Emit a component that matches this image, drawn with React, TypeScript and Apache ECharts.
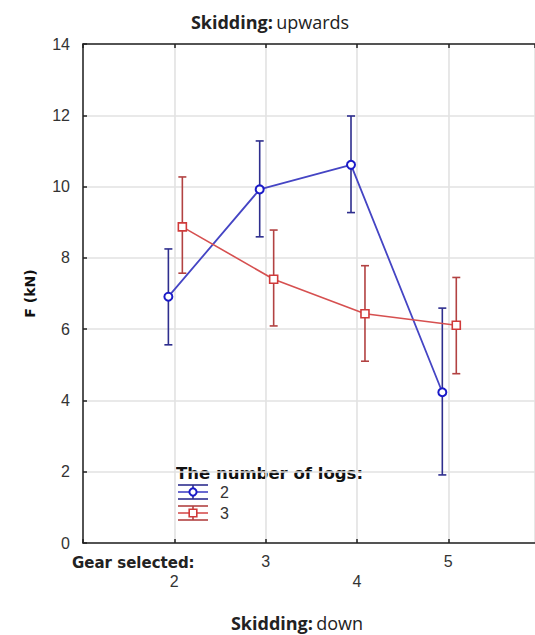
import React, { useEffect, useRef } from "react";
import * as echarts from "echarts";

// Data
const gears = [2, 3, 4, 5];
const tickLabelsX = ["2", "3", "4", "5"];
const logs2Mean = [6.91, 9.92, 10.61, 4.23];
const logs2Low = [5.56, 8.59, 9.27, 1.91];
const logs2High = [8.25, 11.28, 11.98, 6.59];
const logs3Mean = [8.87, 7.4, 6.43, 6.11];
const logs3Low = [7.57, 6.09, 5.1, 4.75];
const logs3High = [10.27, 8.78, 7.78, 7.45];
const legendLabels = ["2", "3"];

const BLUE_LINE = "#4545c4";
const BLUE_BAR = "#2e2e8e";
const BLUE_MARK = "#1a1ac8";
const RED_LINE = "#d65050";
const RED_BAR = "#b24242";
const RED_MARK = "#d03a3a";

const OFF_BLUE = -0.065;
const OFF_RED = 0.088;

function errorSeries(name: string, xs: number[], lo: number[], hi: number[], color: string) {
  return {
    name,
    type: "custom",
    z: 3,
    renderItem: (params: any, api: any) => {
      const x = api.value(0);
      const p1 = api.coord([x, api.value(1)]);
      const p2 = api.coord([x, api.value(2)]);
      const w = 4;
      const st = { stroke: color, lineWidth: 1.6 };
      return {
        type: "group",
        children: [
          { type: "line", shape: { x1: p1[0], y1: p1[1], x2: p2[0], y2: p2[1] }, style: st },
          { type: "line", shape: { x1: p1[0] - w, y1: p1[1], x2: p1[0] + w, y2: p1[1] }, style: st },
          { type: "line", shape: { x1: p2[0] - w, y1: p2[1], x2: p2[0] + w, y2: p2[1] }, style: st },
        ],
      };
    },
    data: xs.map((x, i) => [x, lo[i], hi[i]]),
  };
}

function legendIcon(cx: number, cy: number, lineColor: string, barColor: string, markColor: string, symbol: "circle" | "rect") {
  const half = 15;
  const cap = 7;
  const st = { stroke: barColor, lineWidth: 1.6 };
  const children: any[] = [
    { type: "line", shape: { x1: cx - half, y1: cy - cap, x2: cx + half, y2: cy - cap }, style: st },
    { type: "line", shape: { x1: cx - half, y1: cy + cap, x2: cx + half, y2: cy + cap }, style: st },
    { type: "line", shape: { x1: cx, y1: cy - cap, x2: cx, y2: cy + cap }, style: st },
    { type: "line", shape: { x1: cx - half, y1: cy, x2: cx + half, y2: cy }, style: { stroke: lineColor, lineWidth: 1.6 } },
  ];
  if (symbol === "circle") {
    children.push({ type: "circle", shape: { cx, cy, r: 3.6 }, style: { fill: "#fff", stroke: markColor, lineWidth: 2 } });
  } else {
    children.push({ type: "rect", shape: { x: cx - 3.8, y: cy - 3.8, width: 7.6, height: 7.6 }, style: { fill: "#fff", stroke: markColor, lineWidth: 1.6 } });
  }
  return { type: "group", children };
}

export default function App() {
  const ref = useRef<HTMLDivElement>(null);
  useEffect(() => {
    if (!ref.current) return;
    const chart = echarts.init(ref.current, null, { renderer: "svg" });
    const xs2 = gears.map((g) => g + OFF_BLUE);
    const xs3 = gears.map((g) => g + OFF_RED);
    const labelMap: Record<number, string> = {};
    gears.forEach((g, i) => (labelMap[g] = tickLabelsX[i]));
    const axisLine = { show: true, lineStyle: { color: "#222", width: 1.5 } };
    const titleRich = {
      b: { fontFamily: "Open Sans", fontWeight: "bold", fontSize: 18, fill: "#222" },
      n: { fontFamily: "Open Sans", fontSize: 18, fill: "#222" },
    };
    const option: any = {
      animation: false,
      backgroundColor: "#fff",
      grid: { left: 83, right: 0, top: 44, bottom: 92, containLabel: false },
      xAxis: [
        {
          type: "value",
          min: 1,
          max: 5.95,
          interval: 1,
          axisLine,
          axisTick: { show: true, inside: true, length: 4, lineStyle: { color: "#222", width: 1.5 } },
          splitLine: { show: true, lineStyle: { color: "#e2e2e2", width: 1.6 } },
          axisLabel: {
            showMaxLabel: false,
            margin: 8,
            fontFamily: "Liberation Sans",
            fontSize: 16,
            color: "#333",
            lineHeight: 20,
            formatter: (v: number) => {
              const s = labelMap[v];
              if (!s) return "";
              return v % 2 === 0 ? "\n" + s : s;
            },
          },
        },
        {
          type: "value",
          position: "top",
          min: 1,
          max: 5.95,
          interval: 1,
          axisLine,
          axisTick: { show: true, inside: true, length: 4, lineStyle: { color: "#222", width: 1.5 } },
          axisLabel: { show: false },
          splitLine: { show: false },
        },
      ],
      yAxis: {
        type: "value",
        min: 0,
        max: 14,
        interval: 2,
        name: "F (kN)",
        nameLocation: "middle",
        nameRotate: 90,
        nameGap: 46,
        nameTextStyle: { fontFamily: "DejaVu Sans", fontWeight: "bold", fontSize: 14, color: "#111" },
        axisLine,
        axisTick: { show: true, inside: true, length: 4, lineStyle: { color: "#222", width: 1.5 } },
        splitLine: { show: true, lineStyle: { color: "#e2e2e2", width: 1.6 } },
        axisLabel: { margin: 13, fontFamily: "Liberation Sans", fontSize: 16, color: "#333" },
      },
      series: [
        errorSeries("e2", xs2, logs2Low, logs2High, BLUE_BAR),
        errorSeries("e3", xs3, logs3Low, logs3High, RED_BAR),
        {
          name: "2",
          type: "line",
          z: 4,
          data: xs2.map((x, i) => [x, logs2Mean[i]]),
          lineStyle: { color: BLUE_LINE, width: 1.8 },
          symbol: "circle",
          symbolSize: 8,
          itemStyle: { color: "#fff", borderColor: BLUE_MARK, borderWidth: 2 },
        },
        {
          name: "3",
          type: "line",
          z: 4,
          data: xs3.map((x, i) => [x, logs3Mean[i]]),
          lineStyle: { color: RED_LINE, width: 1.6 },
          symbol: "rect",
          symbolSize: 8,
          itemStyle: { color: "#fff", borderColor: RED_MARK, borderWidth: 1.6 },
        },
      ],
      graphic: [
        {
          type: "text",
          x: 270,
          y: 22,
          style: { text: "{b|Skidding:} {n|upwards}", textAlign: "center", textVerticalAlign: "middle", rich: titleRich },
        },
        {
          type: "text",
          x: 297,
          y: 623,
          style: { text: "{b|Skidding:} {n|down}", textAlign: "center", textVerticalAlign: "middle", rich: titleRich },
        },
        {
          type: "text",
          x: 72,
          y: 563,
          style: {
            text: "Gear selected:",
            textVerticalAlign: "middle",
            fontFamily: "DejaVu Sans",
            fontWeight: "bold",
            fontSize: 15,
            fill: "#222",
          },
        },
        {
          type: "text",
          x: 176,
          y: 473,
          style: {
            text: "The number of logs:",
            textVerticalAlign: "middle",
            fontFamily: "DejaVu Sans",
            fontWeight: "bold",
            fontSize: 16.5,
            fill: "#111",
          },
        },
        legendIcon(193, 492, BLUE_LINE, BLUE_BAR, BLUE_MARK, "circle"),
        legendIcon(193, 513, RED_LINE, RED_BAR, RED_MARK, "rect"),
        {
          type: "text",
          x: 220,
          y: 492,
          style: { text: legendLabels[0], textVerticalAlign: "middle", fontFamily: "Liberation Sans", fontSize: 16, fill: "#333" },
        },
        {
          type: "text",
          x: 220,
          y: 513,
          style: { text: legendLabels[1], textVerticalAlign: "middle", fontFamily: "Liberation Sans", fontSize: 16, fill: "#333" },
        },
      ],
    };
    chart.setOption(option);
    return () => chart.dispose();
  }, []);
  return <div ref={ref} style={{ position: "fixed", left: 0, top: 0, width: 535, height: 635 }} />;
}
